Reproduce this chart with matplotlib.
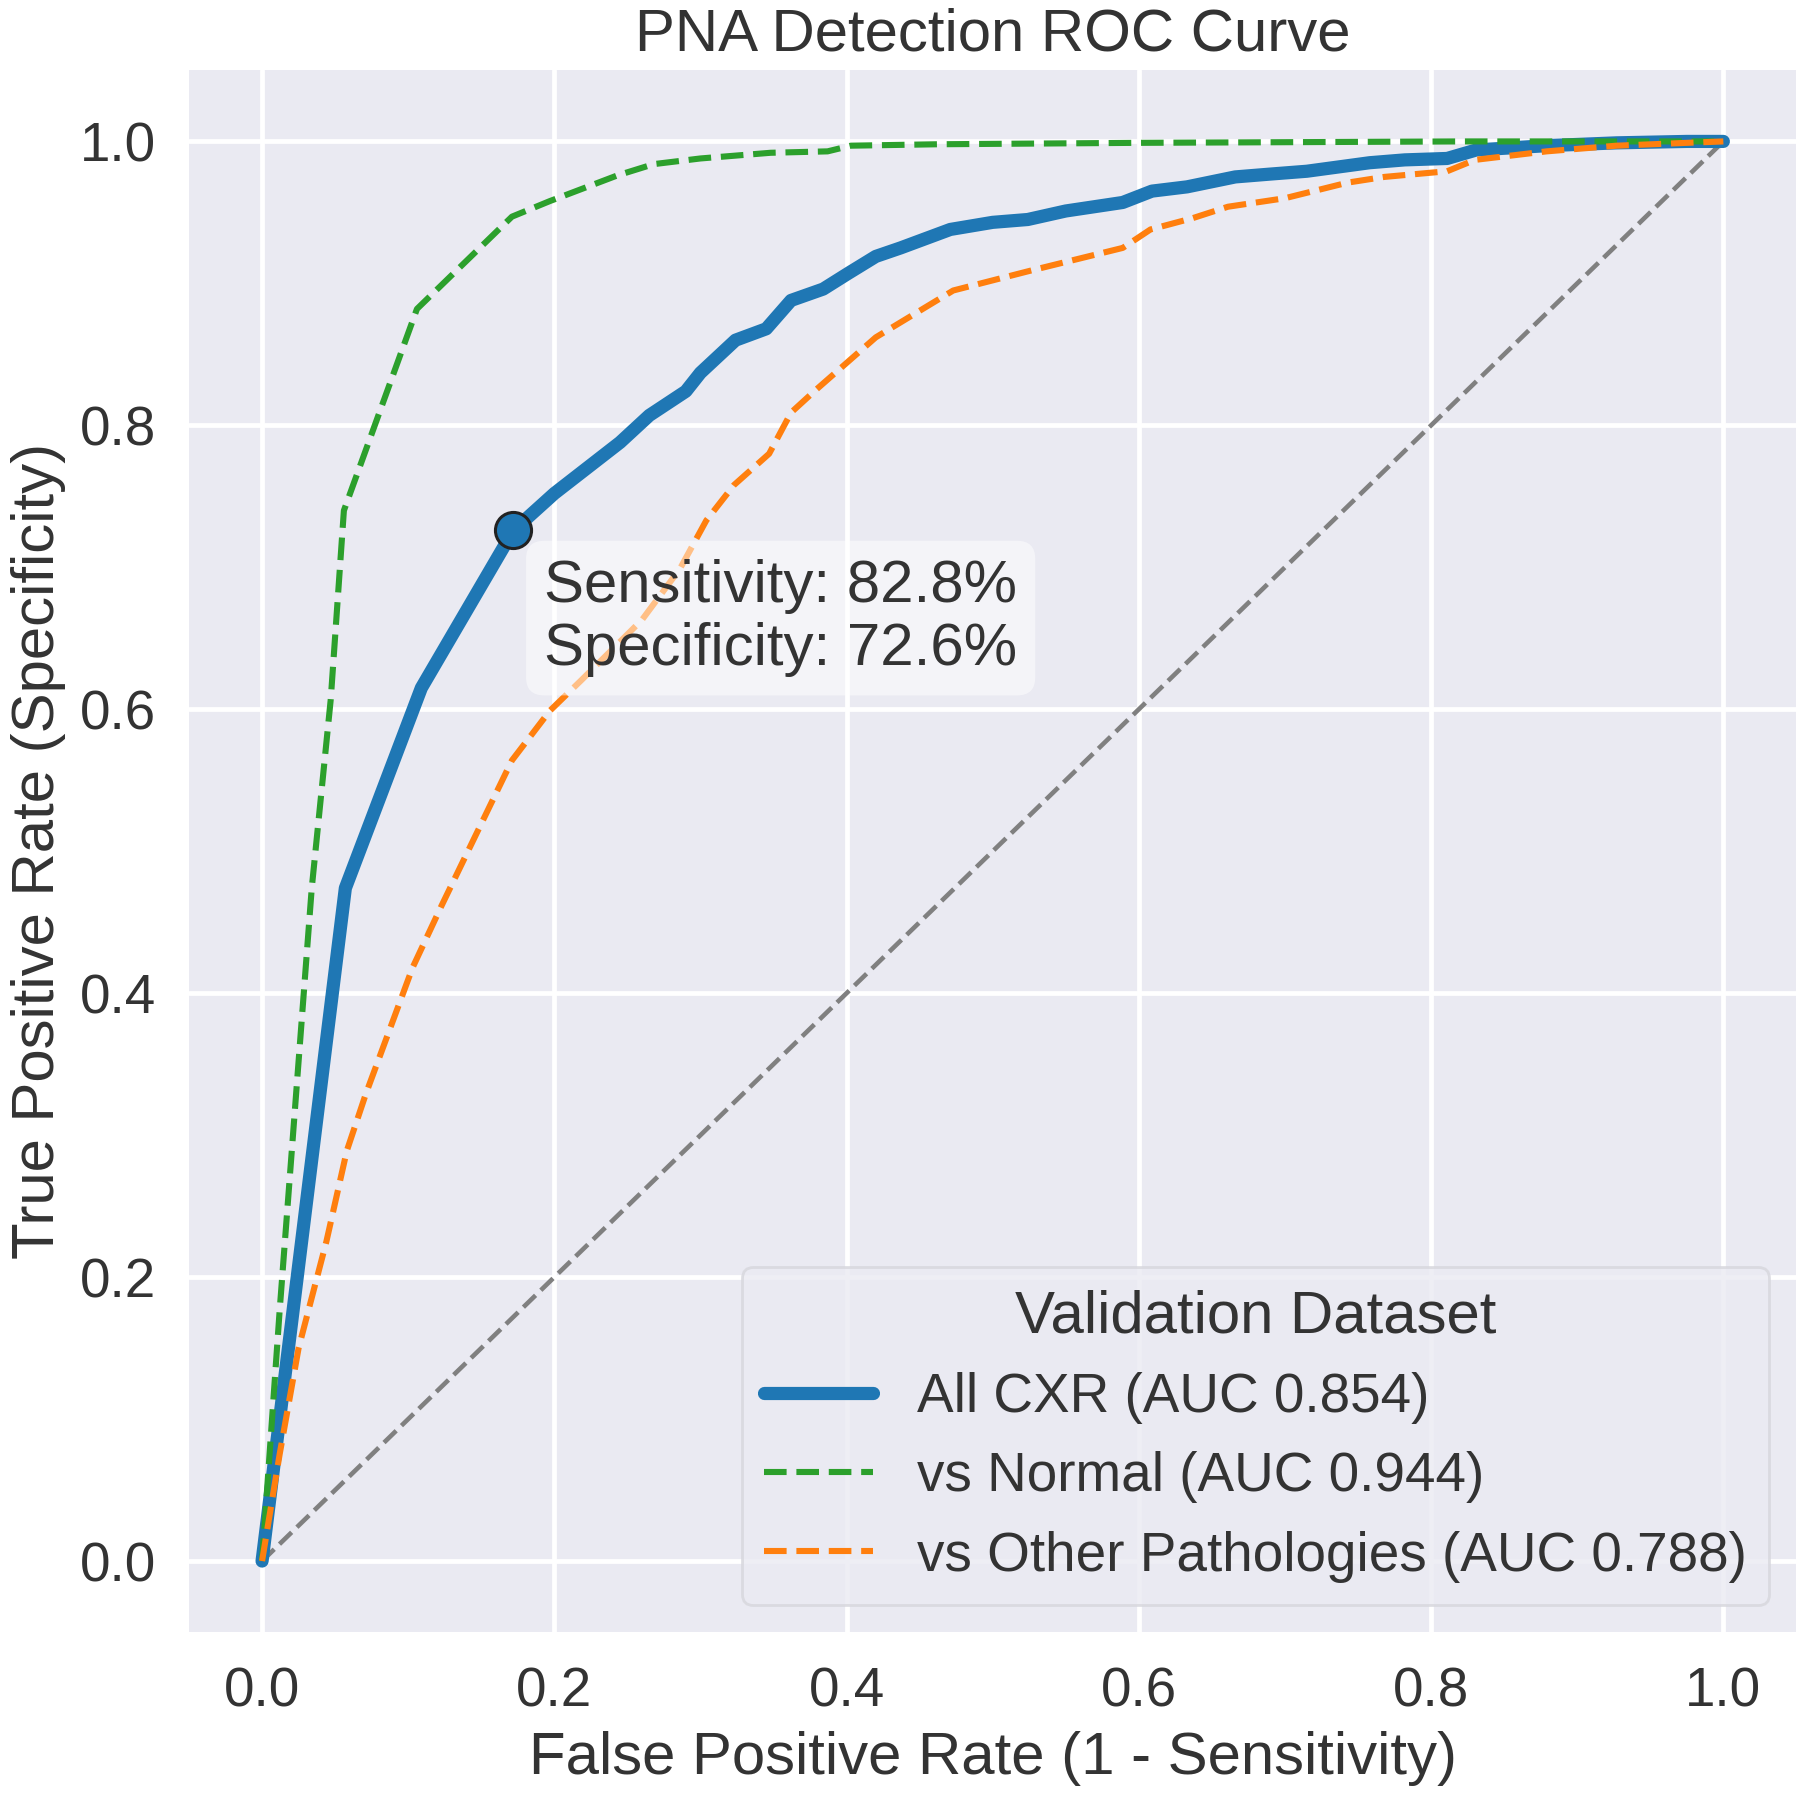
import numpy as np
import matplotlib
matplotlib.use("Agg")
import matplotlib.pyplot as plt

# ---
# data
# ---

# all CXR
fpr_all = [0.0, 0.057, 0.109, 0.172, 0.200, 0.245, 0.265, 0.290, 0.300, 0.324,
           0.345, 0.362, 0.384, 0.401, 0.420, 0.437, 0.471, 0.500, 0.524, 0.550,
           0.589, 0.609, 0.633, 0.666, 0.690, 0.715, 0.758, 0.782, 0.811, 0.831,
           0.879, 0.927, 0.975, 1.0]
tpr_all = [0.0, 0.474, 0.615, 0.726, 0.752, 0.788, 0.807, 0.824, 0.837, 0.860,
           0.868, 0.888, 0.896, 0.907, 0.919, 0.925, 0.938, 0.943, 0.945, 0.951,
           0.957, 0.965, 0.968, 0.975, 0.977, 0.979, 0.985, 0.987, 0.988, 0.994,
           0.997, 0.999, 1.0, 1.0]

# vs normal
fpr_normal = [0.0, 0.012, 0.023, 0.034, 0.047, 0.056, 0.106, 0.171, 0.197, 0.243,
              0.268, 0.300, 0.348, 0.387, 0.403, 0.462, 0.599, 0.821, 1.0]
tpr_normal = [0.0, 0.176, 0.325, 0.474, 0.607, 0.740, 0.882, 0.947, 0.958, 0.976,
              0.984, 0.988, 0.992, 0.993, 0.997, 0.998, 0.999, 1.0, 1.0]

# vs other pathologies
fpr_other = [0.0, 0.012, 0.025, 0.044, 0.058, 0.071, 0.103, 0.123, 0.171, 0.197,
             0.219, 0.260, 0.286, 0.304, 0.323, 0.347, 0.362, 0.379, 0.420, 0.473,
             0.526, 0.589, 0.608, 0.637, 0.661, 0.700, 0.743, 0.768, 0.811, 0.830,
             0.879, 0.927, 0.975, 1.0]
tpr_other = [0.0, 0.075, 0.150, 0.225, 0.289, 0.329, 0.418, 0.462, 0.564, 0.599,
             0.621, 0.663, 0.699, 0.733, 0.758, 0.780, 0.809, 0.825, 0.862, 0.895,
             0.909, 0.925, 0.938, 0.946, 0.954, 0.960, 0.971, 0.975, 0.979, 0.987,
             0.993, 0.997, 0.999, 1.0]

auc_values = [0.854, 0.944, 0.788]
series_names = ["All CXR", "vs Normal", "vs Other Pathologies"]

# operating point
op_sensitivity = 0.828
op_specificity = 0.726

# ---
# styling
# ---

text_color = "#333333"
plt.rcParams.update({
    "font.family": ["Liberation Sans", "DejaVu Sans"],
    "text.color": text_color,
    "axes.labelcolor": text_color,
    "xtick.color": text_color,
    "ytick.color": text_color,
    "axes.facecolor": "#EAEAF2",
    "axes.edgecolor": "white",
    "axes.linewidth": 0,
    "grid.color": "white",
    "grid.linewidth": 3.4,
    "xtick.major.size": 0,
    "ytick.major.size": 0,
    "xtick.major.pad": 25,
    "ytick.major.pad": 24,
    "lines.solid_capstyle": "round",
})

label_size = 43.2
tick_size = 39.5

fig = plt.figure(figsize=(18, 17.97), dpi=100)
ax = fig.add_axes([0.105, 0.0918, 0.893, 0.869])
ax.set_axisbelow(True)
ax.grid(True)

# chance line
ax.plot([0, 1], [0, 1], color="gray", linestyle="--", linewidth=3.3, zorder=1)

ax.plot(fpr_all, tpr_all, color="#1f77b4", linewidth=9.5,
        label=f"{series_names[0]} (AUC {auc_values[0]:.3f})")
ax.plot(fpr_normal, tpr_normal, color="#2ca02c", linestyle="--", linewidth=4.4,
        label=f"{series_names[1]} (AUC {auc_values[1]:.3f})")
ax.plot(fpr_other, tpr_other, color="#ff7f0e", linestyle="--", linewidth=4.4,
        label=f"{series_names[2]} (AUC {auc_values[2]:.3f})")

# operating point marker and its label
op_x = 1 - op_sensitivity
ax.plot(op_x, op_specificity, "o", markersize=26, markerfacecolor="#1f77b4",
        markeredgecolor="#222222", markeredgewidth=2.2, zorder=5)
ax.text(op_x + 0.021, op_specificity - 0.02,
        f"Sensitivity: {op_sensitivity*100:.1f}%\nSpecificity: {op_specificity*100:.1f}%",
        fontsize=label_size, va="top", ha="left", zorder=6,
        bbox=dict(boxstyle="round,pad=0.3", facecolor="white", edgecolor="none", alpha=0.5))

ax.set_xlim(-0.05, 1.05)
ax.set_ylim(-0.05, 1.05)
ax.set_xticks([0, 0.2, 0.4, 0.6, 0.8, 1.0])
ax.set_yticks([0, 0.2, 0.4, 0.6, 0.8, 1.0])
ax.tick_params(labelsize=tick_size)
ax.set_xlabel("False Positive Rate (1 - Sensitivity)", fontsize=label_size, labelpad=9)
ax.set_ylabel("True Positive Rate (Specificity)", fontsize=label_size, labelpad=10)
ax.set_title("PNA Detection ROC Curve", fontsize=label_size, pad=14)

leg = ax.legend(loc="lower right", title="Validation Dataset", fontsize=tick_size,
                title_fontsize=label_size, facecolor="#EAEAF2", framealpha=0.8,
                edgecolor="#d6d6dc", borderaxespad=0.5)
leg.get_frame().set_linewidth(2)

fig.savefig("out.png", dpi=100)
